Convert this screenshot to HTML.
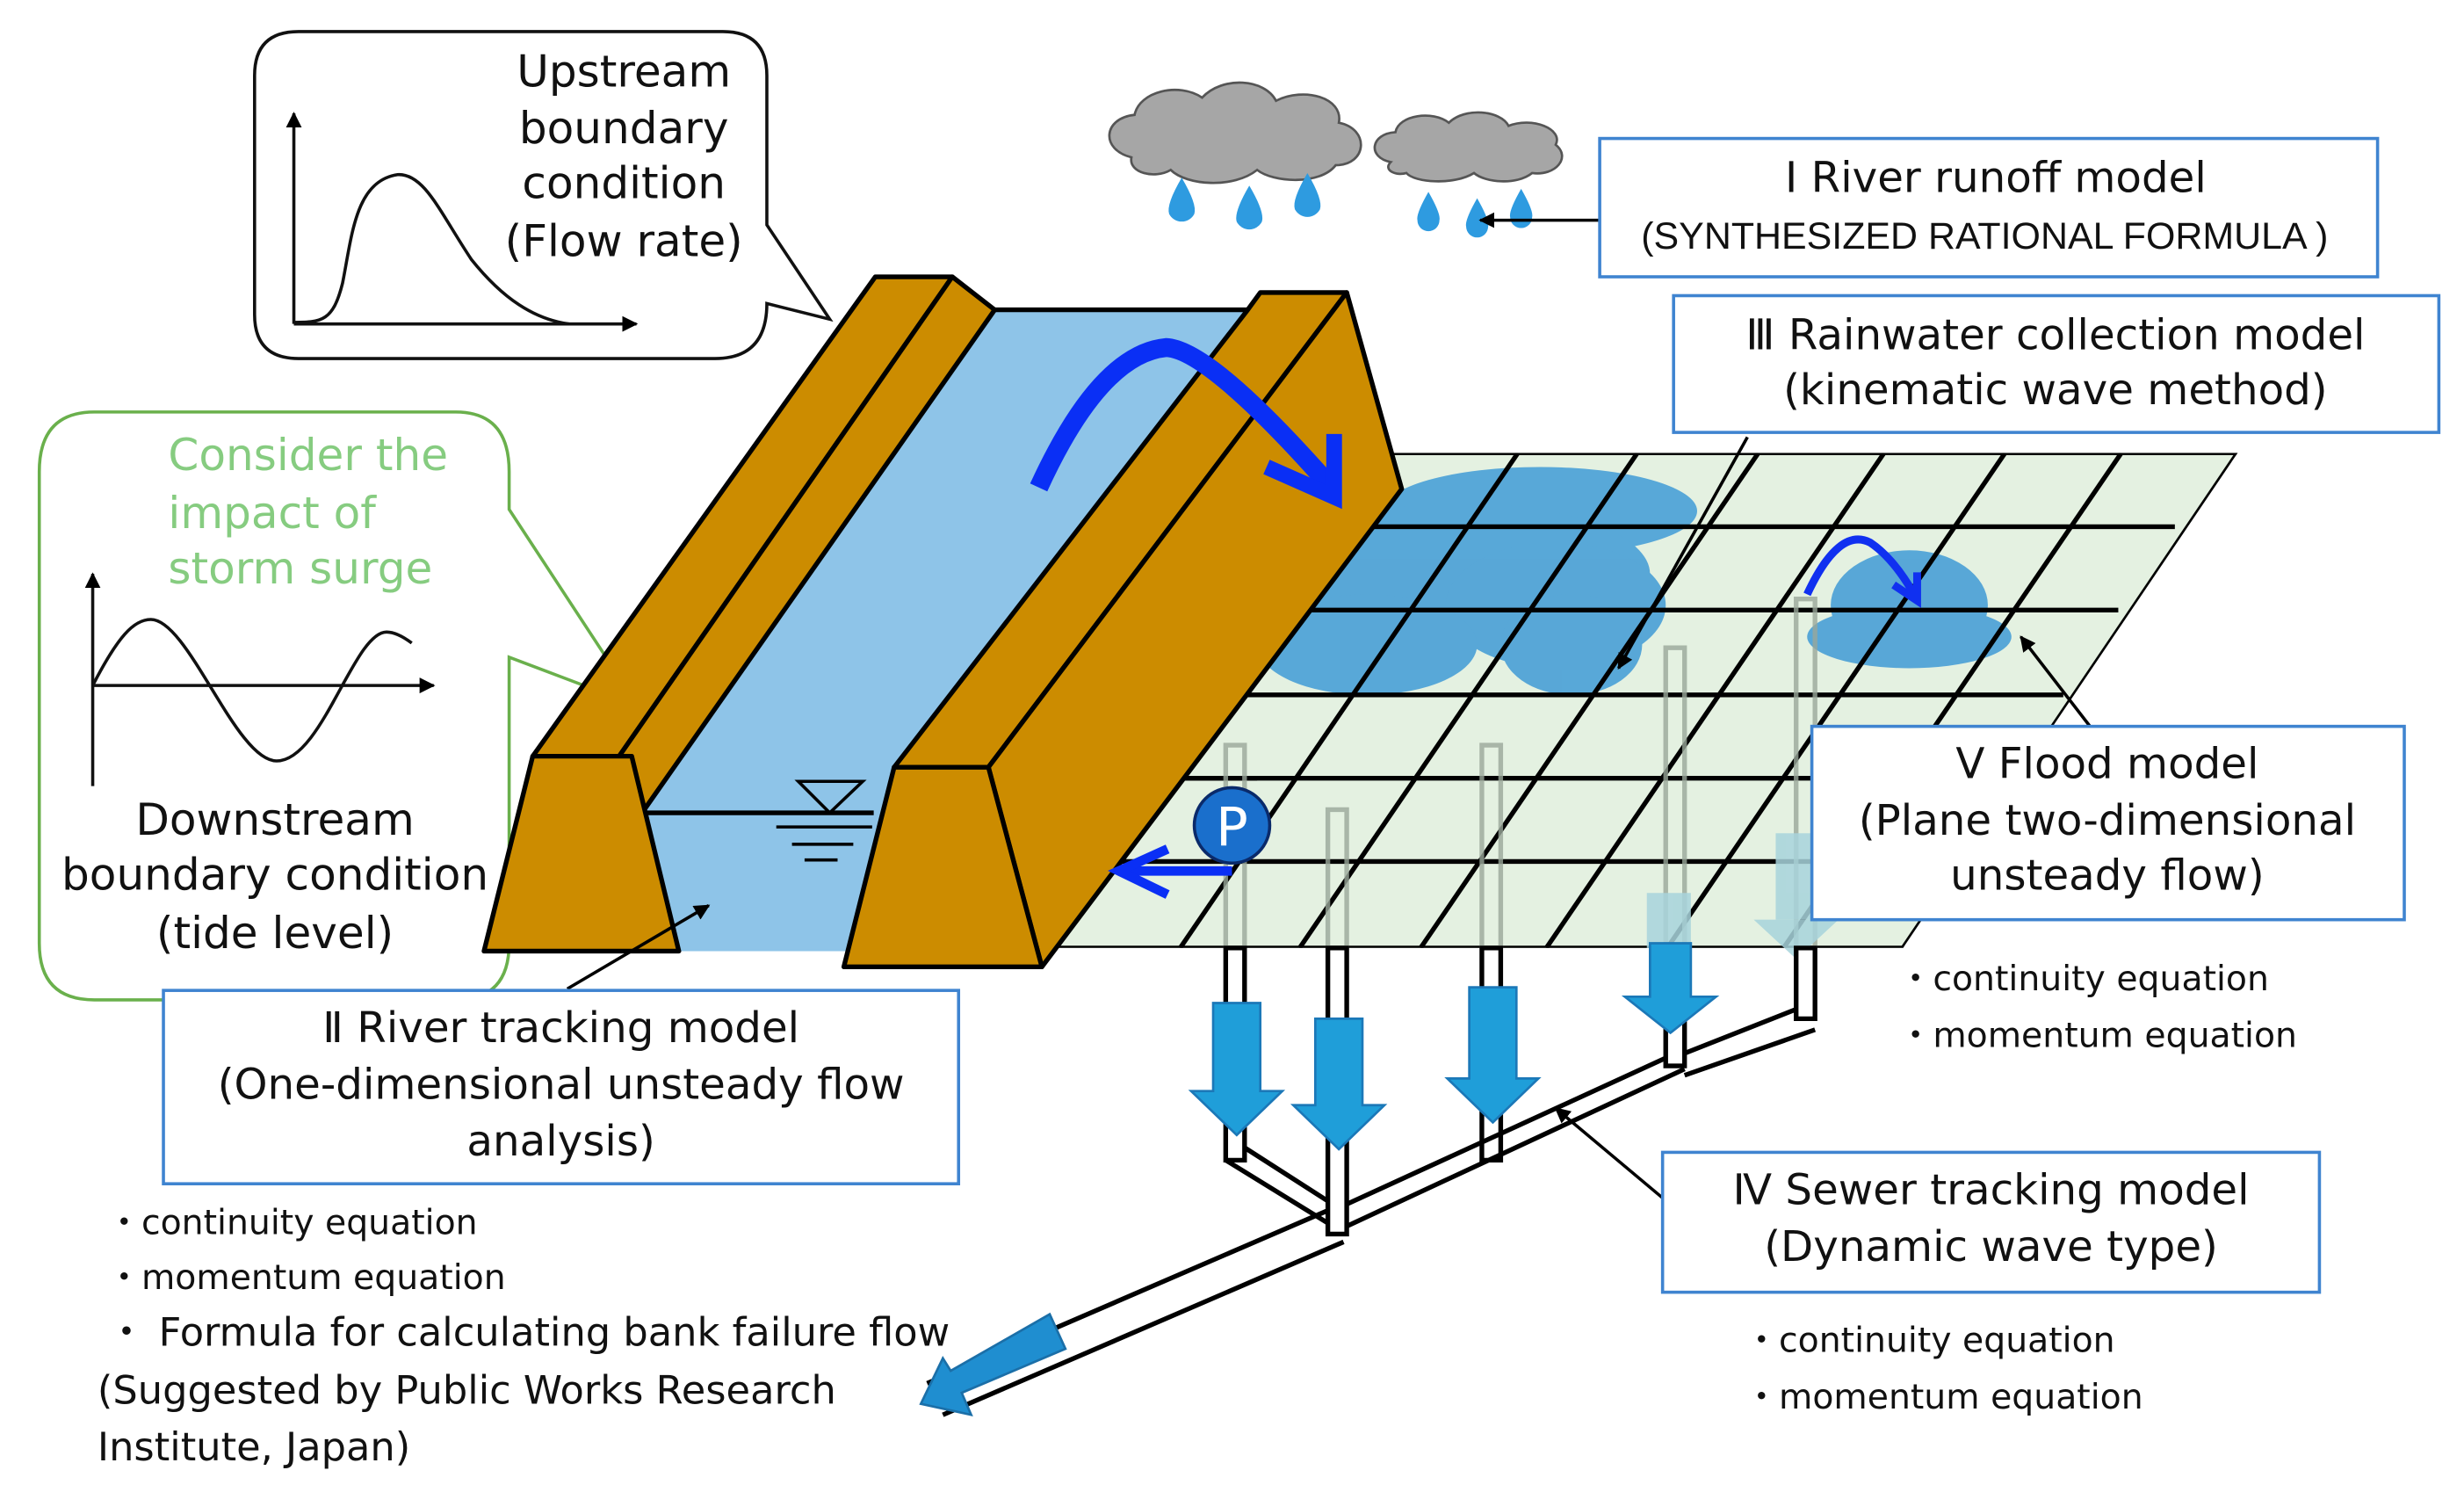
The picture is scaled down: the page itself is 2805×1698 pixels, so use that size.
<!DOCTYPE html>
<html><head><meta charset="utf-8"><style>
html,body{margin:0;padding:0;background:#fff;}
svg{display:block;}
text{font-family:"DejaVu Sans","Liberation Sans",sans-serif;fill:#111;}
</style></head><body>
<svg width="2805" height="1698" viewBox="0 0 1568 949" xmlns="http://www.w3.org/2000/svg">
<defs>
<clipPath id="gc"><polygon points="667,603 882,288 1424,288 1211,603"/></clipPath>
<marker id="ah" markerWidth="10" markerHeight="10" refX="9" refY="5" orient="auto" markerUnits="userSpaceOnUse"><path d="M0,0 L10,5 L0,10 z" fill="#000"/></marker>
</defs>

<!-- Upstream callout -->
<path d="M190,20 H460 Q488,20 488,48 V143 L528,203 L488,193 Q488,228 455,228 H190 Q162,228 162,200 V48 Q162,20 190,20 Z" fill="#fff" stroke="#111" stroke-width="2"/>
<g font-size="28" text-anchor="middle"><text x="397" y="55">Upstream</text><text x="397" y="91">boundary</text><text x="397" y="126">condition</text><text x="397" y="163">(Flow rate)</text></g>
<line x1="187" y1="206" x2="187" y2="72" stroke="#111" stroke-width="2" marker-end="url(#ah)"/>
<line x1="187" y1="206" x2="405" y2="206" stroke="#111" stroke-width="2" marker-end="url(#ah)"/>
<path d="M187,205 C205,205 212,204 218,180 C224,150 226,115 253,111 C270,110 280,135 300,165 C320,190 340,203 362,206" fill="none" stroke="#111" stroke-width="2"/>

<!-- Green callout -->
<path d="M60,262 H290 Q324,262 324,300 V324 L406,449 L324,418 V600 Q324,636 290,636 H60 Q25,636 25,600 V300 Q25,262 60,262 Z" fill="none" stroke="#6ab04c" stroke-width="2"/>
<g font-size="28"><text x="107" y="299" style="fill:#86cc80">Consider the</text><text x="107" y="336" style="fill:#86cc80">impact of</text><text x="107" y="371" style="fill:#86cc80">storm surge</text></g>
<line x1="59" y1="500" x2="59" y2="365" stroke="#111" stroke-width="2" marker-end="url(#ah)"/>
<line x1="59" y1="436" x2="276" y2="436" stroke="#111" stroke-width="2" marker-end="url(#ah)"/>
<path d="M59,436 C75,405 85,394 96,394 C120,394 150,484 176,484 C205,484 225,402 246,402 C252,402 258,406 262,409" fill="none" stroke="#111" stroke-width="2"/>
<g font-size="28" text-anchor="middle"><text x="175" y="531">Downstream</text><text x="175" y="566">boundary condition</text><text x="175" y="603">(tide level)</text></g>

<!-- Clouds -->
<g fill="#a6a6a6" stroke="#555" stroke-width="1.5">
<path d="M720,100 C700,95 702,75 722,73 C725,58 750,52 765,62 C778,48 805,50 812,64 C830,55 855,62 852,78 C872,82 870,105 850,105 C840,118 810,116 800,108 C785,120 755,118 745,108 C735,114 718,110 720,100 Z"/>
<path d="M885,103 C870,100 872,85 888,84 C890,73 912,70 922,78 C932,68 955,70 960,80 C975,74 995,82 990,92 C1000,100 990,112 975,110 C965,118 945,116 938,110 C925,118 900,116 895,110 C888,112 880,108 885,103 Z"/>
</g>
<g fill="#2e9be0">
<path d="M752,113 Q742,130 744,136 A9,9 0 0 0 760,136 Q762,130 752,113Z"/>
<path d="M795,118 Q785,135 787,141 A9,9 0 0 0 803,141 Q805,135 795,118Z"/>
<path d="M832,110 Q822,127 824,133 A9,9 0 0 0 840,133 Q842,127 832,110Z"/>
<path d="M909,122 Q901,136 902,140 A7,7 0 0 0 916,140 Q917,136 909,122Z"/>
<path d="M940,126 Q932,140 933,144 A7,7 0 0 0 947,144 Q948,140 940,126Z"/>
<path d="M968,120 Q960,134 961,138 A7,7 0 0 0 975,138 Q976,134 968,120Z"/>
</g>

<!-- Grid -->
<polygon points="667,603 882,288 1424,288 1211,603" fill="#e4f1e1"/>
<g clip-path="url(#gc)">
<g fill="#2a8fd4" opacity="0.75">
<ellipse cx="980" cy="325" rx="100" ry="28"/>
<ellipse cx="930" cy="365" rx="120" ry="45"/>
<ellipse cx="990" cy="385" rx="70" ry="40"/>
<ellipse cx="870" cy="410" rx="70" ry="32"/>
<ellipse cx="1000" cy="410" rx="45" ry="32"/>
<ellipse cx="1215" cy="385" rx="50" ry="35"/>
<ellipse cx="1215" cy="405" rx="65" ry="20"/>
</g>
<g stroke="#000" stroke-width="3">
<line x1="600" y1="288" x2="1500" y2="288"/>
<line x1="600" y1="335" x2="1384" y2="335"/>
<line x1="600" y1="388" x2="1348" y2="388"/>
<line x1="600" y1="442" x2="1313" y2="442"/>
<line x1="600" y1="495" x2="1500" y2="495"/>
<line x1="600" y1="548" x2="1500" y2="548"/>
<line x1="600" y1="603" x2="1500" y2="603"/>
<line x1="667" y1="603" x2="882" y2="288"/>
<line x1="751" y1="603" x2="966" y2="288"/>
<line x1="827" y1="603" x2="1042" y2="288"/>
<line x1="904" y1="603" x2="1119" y2="288"/>
<line x1="984" y1="603" x2="1199" y2="288"/>
<line x1="1061" y1="603" x2="1276" y2="288"/>
<line x1="1135" y1="603" x2="1350" y2="288"/>
<line x1="1211" y1="603" x2="1424" y2="288"/>
</g>
</g>
<line x1="745" y1="495" x2="800" y2="495" stroke="#000" stroke-width="3"/>
<g fill="none" stroke="#9aa89a" stroke-width="3" opacity="0.8">
<path d="M780,603 V474 H792 V603"/><path d="M845,603 V515 H857 V603"/><path d="M943,603 V474 H955 V603"/>
<path d="M1060,603 V412 H1072 V603"/><path d="M1143,603 V381 H1155 V603"/>
</g>
<g fill="#a8d4dc" opacity="0.85">
<rect x="1048" y="568" width="28" height="35"/><rect x="1130" y="530" width="26" height="55"/>
<polygon points="1116,585 1170,585 1143,610"/>
</g>
<path d="M1150,378 Q1170,335 1190,345 Q1205,355 1218,378" fill="none" stroke="#1030f0" stroke-width="5"/>
<path d="M1205,372 L1220,382 L1220,364" fill="none" stroke="#1030f0" stroke-width="5"/>

<!-- Sewer pipes below -->
<g fill="#fff" stroke="#000" stroke-width="3">
<polygon points="780,603 792,603 792,738 780,738"/>
<polygon points="845,603 857,603 857,785 845,785"/>
<polygon points="943,603 955,603 955,738 943,738"/>
<polygon points="1060,603 1072,603 1072,678 1060,678"/>
<polygon points="1143,603 1155,603 1155,648 1143,648"/>
</g>
<g fill="none" stroke="#000" stroke-width="3">
<path d="M780,738 L845,778 M792,730 L845,764"/>
<path d="M857,766 L1060,673 M857,780 L1072,680 M1072,670 L1143,642 M1072,684 L1155,655"/>
<path d="M845,770 L590,880 M855,790 L600,900"/>
</g>
<g fill="#1f9ed9" stroke="#1b78b8" stroke-width="1.5">
<path d="M772,638 H802 V694 H816 L787,722 L758,694 H772 Z"/>
<path d="M837,648 H867 V703 H881 L852,731 L823,703 H837 Z"/>
<path d="M935,628 H965 V686 H979 L950,714 L921,686 H935 Z"/>
<path d="M1050,600 H1076 V634 H1092 L1063,657 L1034,634 H1050 Z"/>
</g>
<path d="M668,836 L678,858 L612,886 L618,900 L586,893 L600,864 L605,872 L668,836 Z" fill="#1f8ed0" stroke="#1b6fa8" stroke-width="1.5"/>

<!-- River -->
<polygon points="410,515 633,197 794,197 569,488 555,605 410,605" fill="#8ec4e8"/>
<line x1="410" y1="517" x2="556" y2="517" stroke="#000" stroke-width="3"/>
<line x1="633" y1="197" x2="794" y2="197" stroke="#000" stroke-width="3"/>
<g fill="#cc8c00" stroke="#000" stroke-width="3" stroke-linejoin="round">
<polygon points="339,481 557,176 606,176 394,481"/>
<polygon points="394,481 606,176 633,197 410,515"/>
<polygon points="308,605 339,481 402,481 432,605"/>
</g>
<polygon points="508,497 549,497 528,517" fill="none" stroke="#000" stroke-width="2"/>
<g stroke="#000" stroke-width="2"><line x1="494" y1="526" x2="555" y2="526"/><line x1="504" y1="537" x2="543" y2="537"/><line x1="512" y1="547" x2="533" y2="547"/></g>
<g fill="#cc8c00" stroke="#000" stroke-width="3" stroke-linejoin="round">
<polygon points="569,488 794,197 802,186 857,186 629,488"/>
<polygon points="629,488 857,186 892,311 663,615"/>
<polygon points="537,615 569,488 629,488 663,615"/>
</g>
<path d="M661,310 Q700,225 742,221 Q770,222 849,312" fill="none" stroke="#0a2ff5" stroke-width="12"/>
<path d="M806,297 L849,316 L849,276" fill="none" stroke="#0a2ff5" stroke-width="10"/>
<line x1="784" y1="554" x2="715" y2="554" stroke="#0a2ff5" stroke-width="6"/>
<path d="M743,540 L712,554 L743,569" fill="none" stroke="#0a2ff5" stroke-width="6"/>
<circle cx="784" cy="525" r="24" fill="#1a6fcc" stroke="#0a2a6a" stroke-width="2"/>
<text x="784" y="538" font-size="34" text-anchor="middle" style="fill:#fff">P</text>

<line x1="1018" y1="140" x2="942" y2="140" stroke="#000" stroke-width="2" marker-end="url(#ah)"/>
<line x1="1112" y1="278" x2="1030" y2="425" stroke="#000" stroke-width="2" marker-end="url(#ah)"/>
<line x1="1330" y1="462" x2="1286" y2="405" stroke="#000" stroke-width="2" marker-end="url(#ah)"/>
<line x1="361" y1="629" x2="451" y2="576" stroke="#000" stroke-width="2" marker-end="url(#ah)"/>
<line x1="1058" y1="762" x2="990" y2="705" stroke="#000" stroke-width="2" marker-end="url(#ah)"/>

<g fill="#fff" stroke="#3f84d0" stroke-width="2">
<rect x="1018" y="88" width="495" height="88"/>
<rect x="1065" y="188" width="487" height="87"/>
<rect x="1153" y="462" width="377" height="123"/>
<rect x="104" y="630" width="506" height="123"/>
<rect x="1058" y="733" width="418" height="89"/>
</g>
<g font-size="27" text-anchor="middle">
<text x="1270" y="122">Ⅰ River runoff model</text>
<text x="1263" y="158" font-size="24" style="font-family:'Liberation Sans',sans-serif">(SYNTHESIZED RATIONAL FORMULA )</text>
<text x="1308" y="222">Ⅲ Rainwater collection model</text>
<text x="1308" y="257">(kinematic wave method)</text>
<text x="1341" y="495">Ⅴ Flood model</text>
<text x="1341" y="531">(Plane two-dimensional</text>
<text x="1341" y="566">unsteady flow)</text>
<text x="357" y="663">Ⅱ River tracking model</text>
<text x="357" y="699">(One-dimensional unsteady flow</text>
<text x="357" y="735">analysis)</text>
<text x="1267" y="766">Ⅳ Sewer tracking model</text>
<text x="1267" y="802">(Dynamic wave type)</text>
</g>
<g font-size="22">
<text x="1208" y="630">・continuity equation</text>
<text x="1208" y="666">・momentum equation</text>
<text x="1110" y="860">・continuity equation</text>
<text x="1110" y="896">・momentum equation</text>
<text x="68" y="785">・continuity equation</text>
<text x="68" y="820">・momentum equation</text>
<text x="68" y="856" font-size="25">・ Formula for calculating bank failure flow</text>
<text x="62" y="893" font-size="25">(Suggested by Public Works Research</text>
<text x="62" y="929" font-size="25">Institute, Japan)</text>
</g>
</svg>
</body></html>
